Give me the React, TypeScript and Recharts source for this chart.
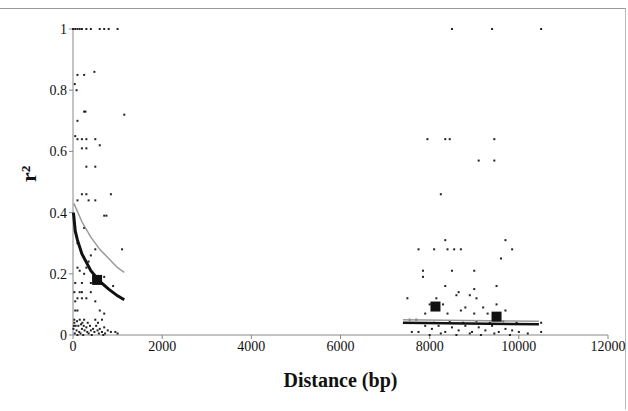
import React from 'react';
import { ScatterChart, Scatter, XAxis, YAxis, Label } from 'recharts';

const leftPoints = [
  [0, 1], [50, 1], [100, 1], [150, 1], [200, 1], [300, 1], [400, 1], [600, 1], [700, 1], [800, 1], [1000, 1],
  [100, 0.85], [250, 0.85], [480, 0.86], [40, 0.82], [80, 0.8], [250, 0.73], [280, 0.73], [1150, 0.72],
  [100, 0.7], [50, 0.65], [100, 0.64], [200, 0.64], [300, 0.64], [500, 0.64], [600, 0.62], [200, 0.61], [300, 0.61],
  [300, 0.55], [500, 0.55], [200, 0.46], [300, 0.46], [850, 0.46], [100, 0.44], [350, 0.44], [500, 0.44],
  [700, 0.39], [750, 0.39], [250, 0.35], [100, 0.3], [500, 0.28], [1100, 0.28], [400, 0.26], [350, 0.24],
  [100, 0.22], [300, 0.22], [150, 0.21], [250, 0.2], [700, 0.19], [50, 0.17], [200, 0.17], [400, 0.17], [900, 0.16],
  [30, 0.14], [150, 0.14], [200, 0.14], [400, 0.14], [100, 0.12], [200, 0.12], [300, 0.12], [50, 0.11], [500, 0.11],
  [50, 0.08], [100, 0.08], [600, 0.08], [700, 0.07], [30, 0.05], [150, 0.05], [250, 0.05], [500, 0.05], [650, 0.05],
  [20, 0.03], [60, 0.03], [120, 0.03], [180, 0.035], [240, 0.03], [300, 0.025], [380, 0.03], [450, 0.02], [520, 0.03],
  [600, 0.02], [700, 0.025], [780, 0.015], [850, 0.01], [950, 0.01], [10, 0.02], [80, 0.015], [140, 0.01], [200, 0.02],
  [260, 0.015], [320, 0.01], [400, 0.015], [480, 0.01], [550, 0.015], [650, 0.01], [720, 0.005], [40, 0.005],
  [100, 0.0], [170, 0.005], [230, 0.0], [350, 0.005], [420, 0.0], [580, 0.005], [680, 0.0], [30, 0.04], [90, 0.045],
  [210, 0.04], [330, 0.04], [560, 0.04], [1000, 0.005],
];

const rightPoints = [
  [8500, 1], [9400, 1], [10500, 1], [7950, 0.64], [8350, 0.64], [8450, 0.64], [9450, 0.64], [9100, 0.57], [9450, 0.57],
  [8250, 0.46], [8350, 0.31], [9700, 0.31], [7750, 0.28], [8100, 0.28], [8400, 0.28], [8550, 0.28], [8700, 0.28],
  [9850, 0.28], [9600, 0.25], [7850, 0.21], [8500, 0.21], [9000, 0.21], [7850, 0.19], [8350, 0.16], [9000, 0.15],
  [9500, 0.16], [8650, 0.14], [8900, 0.13], [9050, 0.12], [7500, 0.12], [8150, 0.12], [8600, 0.13], [8000, 0.1],
  [8300, 0.1], [8800, 0.09], [9200, 0.09], [9500, 0.1], [7900, 0.07], [8400, 0.07], [8700, 0.08], [9000, 0.07],
  [9300, 0.07], [9700, 0.08], [7550, 0.05], [7700, 0.05], [7600, 0.01], [7750, 0.01],
  [7900, 0.03], [8050, 0.02], [8200, 0.03], [8350, 0.01], [8500, 0.025], [8650, 0.015], [8800, 0.03], [8950, 0.01],
  [9100, 0.025], [9250, 0.015], [9400, 0.03], [9550, 0.01], [9700, 0.02], [9850, 0.015], [10000, 0.01], [10200, 0.005],
  [10500, 0.04], [10500, 0.01], [8000, 0.0], [8250, 0.005], [8600, 0.0], [8900, 0.005], [9150, 0.0], [9450, 0.005],
  [9800, 0.0], [8100, 0.04], [8450, 0.045], [8750, 0.04], [9050, 0.045], [9350, 0.04], [9650, 0.045], [9950, 0.04],
];

const grayCurve = [[20, 0.43], [200, 0.37], [400, 0.32], [600, 0.28], [800, 0.25], [1000, 0.22], [1150, 0.205]];
const blackCurve = [[10, 0.4], [50, 0.34], [100, 0.31], [200, 0.265], [400, 0.21], [600, 0.175], [800, 0.15], [1000, 0.128], [1150, 0.115]];
const grayFlat = [[7400, 0.05], [10450, 0.045]];
const blackFlat = [[7400, 0.04], [10450, 0.035]];
const means = [[540, 0.18], [8130, 0.093], [9500, 0.06]];

const toXY = (arr: number[][]) => arr.map(([x, y]) => ({ x, y }));

const Dot = (p: any) => <rect x={p.cx - 1} y={p.cy - 1} width={2} height={2} fill="#222" />;
const Big = (p: any) => <rect x={p.cx - 5} y={p.cy - 5} width={10} height={10} fill="#111" />;

export default function App() {
  const font = 'Liberation Serif, serif';
  return (
    <div style={{ position: 'absolute', left: 0, top: 0, width: 628, height: 411, background: '#fff' }}>
      <div style={{ position: 'absolute', left: 0, top: 8, width: 625, height: 400, borderTop: '1px solid #999', borderRight: '1px solid #bbb' }} />
      <ScatterChart width={628} height={411} margin={{ top: 29, right: 20, bottom: 16, left: 0 }}>
        <XAxis type="number" dataKey="x" domain={[0, 12000]} ticks={[0, 2000, 4000, 6000, 8000, 10000, 12000]} height={60}
          tick={{ fontFamily: font, fontSize: 14, fill: '#111' }} stroke="#888" tickSize={4}>
          <Label value="Distance (bp)" position="insideBottom" offset={8} style={{ fontFamily: font, fontSize: 20, fontWeight: 'bold', fill: '#111' }} />
        </XAxis>
        <YAxis type="number" dataKey="y" width={73} domain={[0, 1]} ticks={[0, 0.2, 0.4, 0.6, 0.8, 1]}
          tick={{ fontFamily: font, fontSize: 14, fill: '#111' }} stroke="#888" tickSize={4}>
          <Label value="r²" angle={-90} position="insideLeft" offset={28} style={{ fontFamily: font, fontSize: 22, fontWeight: 'bold', fill: '#111' }} />
        </YAxis>
        <Scatter data={toXY(leftPoints)} shape={Dot} isAnimationActive={false} />
        <Scatter data={toXY(rightPoints)} shape={Dot} isAnimationActive={false} />
        <Scatter data={toXY(grayCurve)} line={{ stroke: '#999', strokeWidth: 1.5 }} shape={() => null} isAnimationActive={false} />
        <Scatter data={toXY(blackCurve)} line={{ stroke: '#111', strokeWidth: 3 }} shape={() => null} isAnimationActive={false} />
        <Scatter data={toXY(grayFlat)} line={{ stroke: '#999', strokeWidth: 1.5 }} shape={() => null} isAnimationActive={false} />
        <Scatter data={toXY(blackFlat)} line={{ stroke: '#111', strokeWidth: 2.5 }} shape={() => null} isAnimationActive={false} />
        <Scatter data={toXY(means)} shape={Big} isAnimationActive={false} />
      </ScatterChart>
    </div>
  );
}
